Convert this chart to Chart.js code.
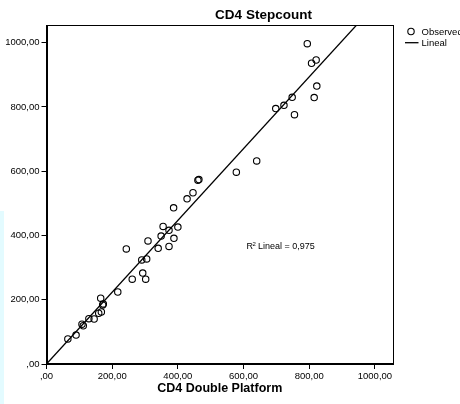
<!DOCTYPE html>
<html>
<head>
<meta charset="utf-8">
<script src="https://cdn.jsdelivr.net/npm/chart.js@4.4.0/dist/chart.umd.min.js"></script>
<style>
    html, body { margin: 0; padding: 0; background: #fff; }
    #wrap { position: relative; width: 460px; height: 404px; }
    #strip { position: absolute; left: 0; top: 211px; width: 4px; height: 193px; background: #e3fbff; }
    #chart { position: absolute; left: 0; top: 0; }
</style>
</head>
<body>
<div id="wrap">
    <div id="strip"></div>
    <canvas id="chart" width="460" height="404"></canvas>
</div>
<script>
// valores
const platformValues  = [65, 90, 108, 112, 129, 145, 159, 167, 165, 171, 173, 217, 261, 293, 302, 290, 305,
                         243, 309, 340, 373, 349, 355, 373, 388, 400, 387, 428, 446, 461, 464, 578, 640,
                         698, 723, 748, 755, 794, 807, 821, 823, 815];
const stepcountValues = [78, 90, 124, 119, 141, 140, 158, 162, 205, 184, 187, 224, 264, 283, 264, 324, 327,
                         358, 383, 360, 366, 398, 428, 416, 391, 426, 486, 514, 533, 572, 574, 597, 632,
                         795, 805, 830, 776, 997, 936, 946, 865, 829];

// recta de ajuste (extremos leídos)
const fitLineX = [0, 947];
const fitLineY = [0, 1058];

const xTickValues = [0, 200, 400, 600, 800, 1000];
const xTickLabels = [',00', '200,00', '400,00', '600,00', '800,00', '1000,00'];
const yTickValues = [0, 200, 400, 600, 800, 1000];
const yTickLabels = [',00', '200,00', '400,00', '600,00', '800,00', '1000,00'];
const axisMax = 1055;

const FONT = '"Liberation Sans", Arial, sans-serif';

const decorPlugin = {
    id: 'spssDecor',
    afterDraw(chart) {
        const ctx = chart.ctx;
        const a = chart.chartArea;
        ctx.save();
        // marco
        ctx.strokeStyle = '#000';
        ctx.lineWidth = 1;
        ctx.strokeRect(Math.round(a.left) + 0.5, Math.round(a.top) + 0.5,
            Math.round(a.right - a.left) - 1, Math.round(a.bottom - a.top) - 1);

        // título
        ctx.fillStyle = '#000';
        ctx.font = 'bold 13.5px ' + FONT;
        ctx.textAlign = 'center';
        ctx.textBaseline = 'middle';
        ctx.fillText('CD4 Stepcount', 263.5, 15);

        // leyenda
        ctx.font = '9.5px ' + FONT;
        ctx.textAlign = 'left';
        ctx.lineWidth = 1.1;
        ctx.beginPath();
        ctx.arc(411, 31.5, 3.2, 0, Math.PI * 2);
        ctx.stroke();
        ctx.fillText('Observed', 421.5, 32);
        ctx.lineWidth = 1.3;
        ctx.beginPath();
        ctx.moveTo(405, 42.7);
        ctx.lineTo(418.5, 42.7);
        ctx.stroke();
        ctx.fillText('Lineal', 421.5, 43);

        // R²
        ctx.font = '9px ' + FONT;
        ctx.fillText('R', 246.5, 247);
        ctx.font = '6px ' + FONT;
        ctx.fillText('2', 252.5, 244);
        ctx.font = '9px ' + FONT;
        ctx.fillText(' Lineal = 0,975', 255.5, 247);
        ctx.restore();
    }
};

const points = platformValues.map((x, i) => ({ x: x, y: stepcountValues[i] }));
const fitLine = fitLineX.map((x, i) => ({ x: x, y: fitLineY[i] }));

const ctx = document.getElementById('chart').getContext('2d');
new Chart(ctx, {
    type: 'scatter',
    data: {
        datasets: [{
            label: 'Observed',
            data: points,
            pointStyle: 'circle',
            pointRadius: 3.2,
            pointBackgroundColor: 'rgba(0,0,0,0)',
            pointBorderColor: '#000',
            pointBorderWidth: 1.1
        }, {
            label: 'Lineal',
            data: fitLine,
            showLine: true,
            borderColor: '#000',
            borderWidth: 1.3,
            pointRadius: 0
        }]
    },
    options: {
        responsive: false,
        animation: false,
        devicePixelRatio: 1,
        layout: { padding: { left: 0, top: 25, right: 67, bottom: 0 } },
        plugins: { legend: { display: false }, tooltip: { enabled: false }, title: { display: false } },
        scales: {
            x: {
                type: 'linear',
                min: 0,
                max: axisMax,
                afterFit: s => { s.height = 40; },
                afterBuildTicks: s => { s.ticks = xTickValues.map(v => ({ value: v })); },
                grid: { drawOnChartArea: false, drawTicks: true, tickLength: 5, color: '#000' },
                border: { display: true, color: '#000' },
                ticks: {
                    color: '#000',
                    padding: 2,
                    maxRotation: 0,
                    font: { family: FONT, size: 9.5 },
                    callback: v => xTickLabels[xTickValues.indexOf(v)]
                },
                title: {
                    display: true,
                    text: 'CD4 Double Platform',
                    color: '#000',
                    font: { family: FONT, size: 12.5, weight: 'bold' },
                    padding: { top: 4, bottom: 8 }
                }
            },
            y: {
                type: 'linear',
                min: 0,
                max: axisMax,
                afterFit: s => { s.width = 46.5; },
                afterBuildTicks: s => { s.ticks = yTickValues.map(v => ({ value: v })); },
                grid: { drawOnChartArea: false, drawTicks: true, tickLength: 5, color: '#000' },
                border: { display: true, color: '#000' },
                ticks: {
                    color: '#000',
                    padding: 2,
                    font: { family: FONT, size: 9.5 },
                    callback: v => yTickLabels[yTickValues.indexOf(v)]
                }
            }
        }
    },
    plugins: [decorPlugin]
});
</script>
</body>
</html>
